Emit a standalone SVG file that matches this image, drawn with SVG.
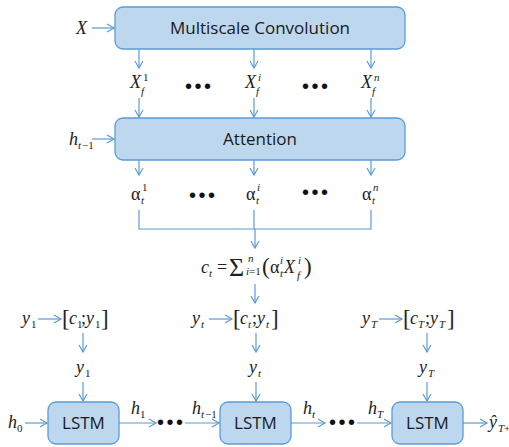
<svg xmlns="http://www.w3.org/2000/svg" width="509" height="447" viewBox="0 0 509 447">
  <defs>
    <marker id="arr" markerWidth="10" markerHeight="10" refX="8" refY="5" orient="auto" markerUnits="userSpaceOnUse">
      <path d="M1,1 L8,5 L1,9" fill="none" stroke="#5B9BD5" stroke-width="1.2"/>
    </marker>
  </defs>
  <style>
    .box { fill: #BDD7EE; stroke: #5B9BD5; stroke-width: 1.3; }
    .lbl { font-family: "Open Sans", "Noto Sans", sans-serif; font-size: 17px; fill: #1a1a1a; text-anchor: middle; }
    .ln { fill: none; stroke: #5B9BD5; stroke-width: 1.2; }
    .ar { fill: none; stroke: #5B9BD5; stroke-width: 1.2; marker-end: url(#arr); }
    .m { font-family: "Liberation Serif", "DejaVu Serif", serif; font-style: italic; font-size: 18px; fill: #222; }
    .r { font-family: "Liberation Serif", "DejaVu Serif", serif; font-size: 18px; fill: #222; }
    .big { font-family: "Liberation Serif", "DejaVu Serif", serif; font-size: 23px; fill: #222; }
    .sig { font-family: "Liberation Serif", "DejaVu Serif", serif; font-size: 26px; fill: #222; }
    .s { font-family: "Liberation Serif", "DejaVu Serif", serif; font-style: italic; font-size: 11px; fill: #222; }
    .sr { font-family: "Liberation Serif", "DejaVu Serif", serif; font-size: 11px; fill: #222; }
    .dots { font-family: "Liberation Sans", sans-serif; font-size: 20px; fill: #111; letter-spacing: 2.5px; }
  </style>

  <!-- blocks -->
  <g id="conv">
    <rect class="box" x="115" y="7" width="290" height="42" rx="8"/>
    <text class="lbl" x="260" y="34">Multiscale Convolution</text>
  </g>
  <g id="attention">
    <rect class="box" x="115" y="118" width="290" height="42" rx="8"/>
    <text class="lbl" x="260" y="145">Attention</text>
  </g>
  <g id="lstm1">
    <rect class="box" x="48" y="402" width="71" height="42" rx="8"/>
    <text class="lbl" x="83.5" y="429">LSTM</text>
  </g>
  <g id="lstm2">
    <rect class="box" x="220" y="402" width="71" height="42" rx="8"/>
    <text class="lbl" x="255.5" y="429">LSTM</text>
  </g>
  <g id="lstm3">
    <rect class="box" x="392" y="402" width="71" height="42" rx="8"/>
    <text class="lbl" x="427.5" y="429">LSTM</text>
  </g>

  <!-- connectors -->
  <g id="connectors">
    <path class="ar" d="M92,28 H114"/>
    <path class="ar" d="M139,49 V68"/>
    <path class="ar" d="M254,49 V68"/>
    <path class="ar" d="M371,49 V68"/>
    <path class="ar" d="M139,98 V117"/>
    <path class="ar" d="M254,98 V117"/>
    <path class="ar" d="M371,98 V117"/>
    <path class="ar" d="M92,139 H114"/>
    <path class="ar" d="M139,160 V175"/>
    <path class="ar" d="M254,160 V175"/>
    <path class="ar" d="M371,160 V175"/>
    <path class="ln" d="M139,210 V229 H371 V210"/>
    <path class="ln" d="M254,210 V229"/>
    <path class="ar" d="M255,229 V248"/>
    <path class="ar" d="M255,284 V303"/>
    <path class="ar" d="M38,319 H61"/>
    <path class="ar" d="M209,319 H232"/>
    <path class="ar" d="M379,319 H402"/>
    <path class="ar" d="M83,333 V352"/>
    <path class="ar" d="M256,333 V352"/>
    <path class="ar" d="M427,333 V352"/>
    <path class="ar" d="M83,382 V401"/>
    <path class="ar" d="M256,382 V401"/>
    <path class="ar" d="M427,382 V401"/>
    <path class="ar" d="M25,423 H47"/>
    <path class="ar" d="M119,423 H156"/>
    <path class="ar" d="M185,423 H219"/>
    <path class="ar" d="M291,423 H325"/>
    <path class="ar" d="M357,423 H391"/>
    <path class="ar" d="M463,423 H487"/>
  </g>

  <!-- input and feature labels -->
  <g id="labels">
    <text class="m" x="76" y="34">X</text>

    <text class="m" x="130" y="88">X</text><text class="sr" x="143" y="81">1</text><text class="s" x="141" y="95">f</text>
    <text class="m" x="245" y="88">X</text><text class="s" x="258" y="81">i</text><text class="s" x="256" y="95">f</text>
    <text class="m" x="361" y="88">X</text><text class="s" x="374" y="81">n</text><text class="s" x="372" y="95">f</text>
    <text class="dots" x="185" y="93">•••</text>
    <text class="dots" x="302" y="93">•••</text>

    <text class="m" x="69" y="145">h</text><text class="s" x="78" y="149">t</text><text class="sr" x="82" y="149">−1</text>

    <text class="r" x="131" y="200">α</text><text class="sr" x="142" y="191">1</text><text class="s" x="141" y="204">t</text>
    <text class="r" x="246" y="200">α</text><text class="s" x="257" y="191">i</text><text class="s" x="256" y="204">t</text>
    <text class="r" x="362" y="200">α</text><text class="s" x="373" y="191">n</text><text class="s" x="372" y="204">t</text>
    <text class="dots" x="189" y="202">•••</text>
    <text class="dots" x="302" y="199">•••</text>

    <!-- context vector -->
    <text class="m" x="201" y="273">c</text><text class="s" x="209" y="277">t</text>
    <text class="r" x="217" y="273">=</text>
    <text class="sig" x="229" y="276">Σ</text>
    <text class="s" x="248" y="262">n</text><text class="s" x="246" y="275">i</text><text class="sr" x="249" y="275">=1</text>
    <text class="big" x="262" y="274">(</text>
    <text class="r" x="270" y="273">α</text><text class="s" x="280" y="264">i</text><text class="s" x="280" y="277">t</text>
    <text class="m" x="284" y="273">X</text><text class="s" x="298" y="264">i</text><text class="s" x="297" y="279">f</text>
    <text class="big" x="304" y="274">)</text>

    <!-- concatenations -->
    <text class="m" x="22" y="324">y</text><text class="sr" x="31" y="328">1</text>
    <text class="big" x="62" y="326">[</text>
    <text class="m" x="69" y="324">c</text><text class="sr" x="77" y="328">1</text>
    <text class="r" x="81" y="324">;</text>
    <text class="m" x="86" y="324">y</text><text class="sr" x="95" y="328">1</text>
    <text class="big" x="101" y="326">]</text>

    <text class="m" x="192" y="324">y</text><text class="s" x="201" y="328">t</text>
    <text class="big" x="233" y="326">[</text>
    <text class="m" x="240" y="324">c</text><text class="s" x="248" y="328">t</text>
    <text class="r" x="252" y="324">;</text>
    <text class="m" x="257" y="324">y</text><text class="s" x="266" y="328">t</text>
    <text class="big" x="271" y="326">]</text>

    <text class="m" x="362" y="324">y</text><text class="s" x="371" y="328">T</text>
    <text class="big" x="403" y="326">[</text>
    <text class="m" x="410" y="324">c</text><text class="s" x="418" y="328">T</text>
    <text class="r" x="425" y="324">;</text>
    <text class="m" x="430" y="324">y</text><text class="s" x="439" y="328">T</text>
    <text class="big" x="447" y="326">]</text>

    <text class="m" x="76" y="373">y</text><text class="sr" x="85" y="377">1</text>
    <text class="m" x="249" y="373">y</text><text class="s" x="258" y="377">t</text>
    <text class="m" x="419" y="373">y</text><text class="s" x="428" y="377">T</text>

    <!-- hidden states -->
    <text class="m" x="8" y="428">h</text><text class="sr" x="17" y="432">0</text>
    <text class="m" x="131" y="414">h</text><text class="sr" x="140" y="418">1</text>
    <text class="dots" x="157" y="429">•••</text>
    <text class="m" x="192" y="414">h</text><text class="s" x="201" y="418">t</text><text class="sr" x="205" y="418">−1</text>
    <text class="m" x="303" y="414">h</text><text class="s" x="312" y="418">t</text>
    <text class="dots" x="329" y="429">•••</text>
    <text class="m" x="368" y="414">h</text><text class="s" x="377" y="418">T</text>
    <text class="m" x="489" y="428">ŷ</text><text class="s" x="498" y="432">T</text><text class="sr" x="504" y="432">+</text>
  </g>
</svg>
